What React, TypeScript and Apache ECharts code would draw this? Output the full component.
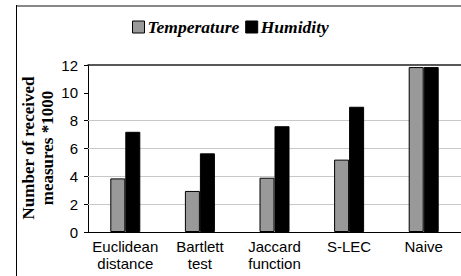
import React, { useEffect, useRef } from "react";
import * as echarts from "echarts";

const categories = ["Euclidean\ndistance", "Bartlett\ntest", "Jaccard\nfunction", "S-LEC", "Naive"];
const temperature = [3.85, 2.95, 3.9, 5.2, 11.85];
const humidity = [7.2, 5.65, 7.6, 9.0, 11.85];
const yTicks = { min: 0, max: 12, interval: 2 };
const gridValues = [2, 4, 6, 8];
const yTitle = "Number of received\nmeasures *1000";

export default function App() {
  const ref = useRef<HTMLDivElement>(null);
  useEffect(() => {
    const chart = echarts.init(ref.current!, null, { renderer: "svg" });
    chart.setOption({
      animation: false,
      backgroundColor: "#fff",
      grid: { left: 88, right: -4, top: 65, bottom: 44, containLabel: false },
      legend: {
        top: 13,
        left: 127,
        itemWidth: 12,
        itemHeight: 12,
        itemGap: 6,
        textStyle: {
          fontFamily: "Liberation Serif",
          fontWeight: "bold",
          fontStyle: "italic",
          fontSize: 17.5,
          color: "#000",
          padding: [0, 0, 0, -2],
        },
        data: [
          { name: "Temperature", icon: "rect", itemStyle: { color: "#999", borderColor: "#000", borderWidth: 1 } },
          { name: "Humidity", icon: "rect", itemStyle: { color: "#000", borderColor: "#000", borderWidth: 1 } },
        ],
      },
      xAxis: [
        {
          type: "category",
          data: categories,
          axisLine: { lineStyle: { color: "#000", width: 1 } },
          axisTick: { alignWithLabel: true, length: 4, lineStyle: { color: "#000" } },
          axisLabel: {
            fontFamily: "Liberation Sans",
            fontSize: 15,
            color: "#000",
            lineHeight: 17,
            margin: 6,
            interval: 0,
          },
        },
        {
          type: "category",
          position: "top",
          data: categories,
          axisLine: { lineStyle: { color: "#222", width: 1.5 } },
          axisTick: { show: false },
          axisLabel: { show: false },
        },
      ],
      yAxis: {
        type: "value",
        min: yTicks.min,
        max: yTicks.max,
        interval: yTicks.interval,
        axisLine: { show: true, lineStyle: { color: "#000", width: 1 } },
        axisTick: { show: true, length: 4, lineStyle: { color: "#000" } },
        axisLabel: { fontFamily: "Liberation Sans", fontSize: 15, color: "#000", margin: 10 },
        splitLine: { show: false },
      },
      series: [
        {
          name: "Temperature",
          type: "bar",
          data: temperature,
          barWidth: 15,
          barGap: "0%",
          z: 3,
          itemStyle: { color: "#999", borderColor: "#000", borderWidth: 1 },
          markLine: {
            silent: true,
            symbol: "none",
            label: { show: false },
            z: 1,
            lineStyle: { color: "#c8c8c8", width: 1, type: "solid" },
            data: gridValues.map((v) => ({ yAxis: v })),
          },
        },
        {
          name: "Humidity",
          type: "bar",
          data: humidity,
          barWidth: 15,
          barGap: "0%",
          z: 3,
          itemStyle: { color: "#000", borderColor: "#000", borderWidth: 1 },
        },
      ],
      graphic: [
        { type: "line", shape: { x1: 16, y1: 6, x2: 461, y2: 6 }, style: { stroke: "#888", lineWidth: 2 } },
        { type: "line", shape: { x1: 16.5, y1: 5, x2: 16.5, y2: 276 }, style: { stroke: "#000", lineWidth: 1 } },
        {
          type: "text",
          x: 38,
          y: 148,
          rotation: Math.PI / 2,
          style: {
            text: yTitle,
            fontFamily: "Liberation Serif",
            fontWeight: "bold",
            fontSize: 17,
            lineHeight: 19,
            fill: "#000",
            textAlign: "center",
            textVerticalAlign: "middle",
          },
        },
      ],
    });
    return () => chart.dispose();
  }, []);
  return <div ref={ref} style={{ width: 461, height: 276, position: "absolute", left: 0, top: 0 }} />;
}
